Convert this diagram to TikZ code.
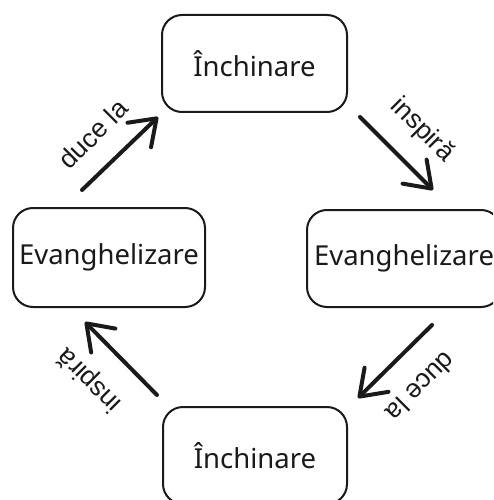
\documentclass[tikz,border=0pt]{standalone}
\usepackage{fontspec}
\setmainfont{Noto Sans}
\newfontfamily\labelfont{Liberation Sans}
\usetikzlibrary{arrows.meta}
\definecolor{ink}{HTML}{1A1A1A}
\begin{document}
\begin{tikzpicture}[x=1pt,y=-1pt,
  box/.style={draw=ink, line width=2pt, rounded corners=20pt, text=ink,
    font=\fontsize{27.5}{31}\selectfont, inner sep=0pt},
  conn/.style={draw=ink, line width=4pt, line cap=round,
    -{Straight Barb[length=24pt,width=34pt,line width=4pt,round]}},
  lbl/.style={text=ink, font=\labelfont\fontsize{26.5}{29}\selectfont, inner sep=0pt}]
\useasboundingbox (0,0) rectangle (493,500);
\clip (0,0) rectangle (493,500);
\fill[white] (0,0) rectangle (493,500);
\node[box, minimum width=185pt, minimum height=97pt] (top) at (254.5,63.5) {Închinare};
\node[box, minimum width=192pt, minimum height=99pt] (left) at (109,257.5) {Evanghelizare};
\node[box, minimum width=194pt, minimum height=97pt] (right) at (404,258.5) {Evanghelizare};
\node[box, minimum width=184pt, minimum height=97pt] (bottom) at (255,455.5) {Închinare};
\coordinate (a1s) at (82,190);  \coordinate (a1e) at (158,117);
\coordinate (a2s) at (360,117); \coordinate (a2e) at (433,190);
\coordinate (a3s) at (432,325); \coordinate (a3e) at (358,398);
\coordinate (a4s) at (157,395); \coordinate (a4e) at (85,322);
\draw[conn] (a1s) -- (a1e);
\draw[conn] (a2s) -- (a2e);
\draw[conn] (a3s) -- (a3e);
\draw[conn] (a4s) -- (a4e);
\node[lbl, rotate=45] (l1) at (93,134) {duce la};
\node[lbl, rotate=-45] (l2) at (422,130) {inspiră};
\node[lbl, rotate=225] (l3) at (421,387) {duce la};
\node[lbl, rotate=135] (l4) at (90,380) {inspiră};
\end{tikzpicture}
\end{document}
